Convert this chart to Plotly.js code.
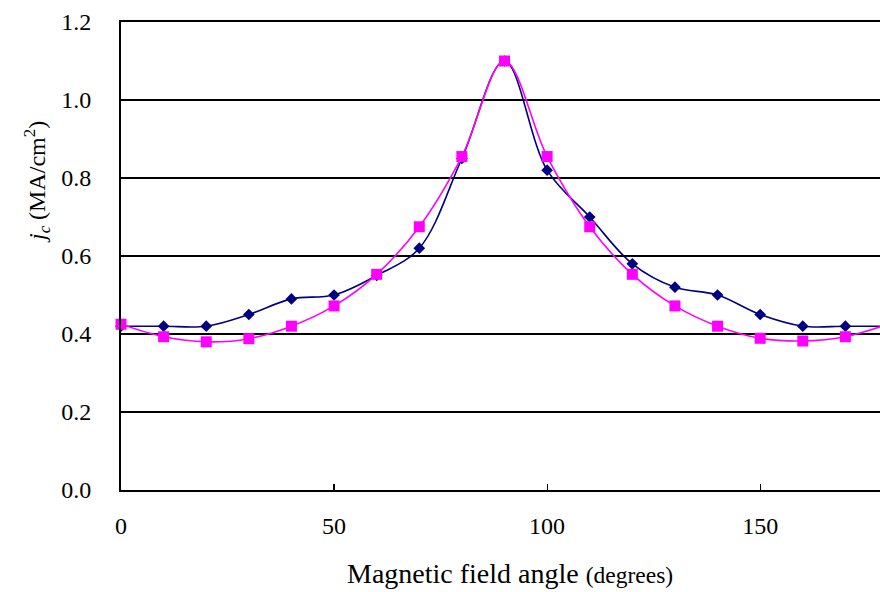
<!DOCTYPE html>
<html>
<head>
<meta charset="utf-8">
<script src="https://cdn.plot.ly/plotly-3.0.1.min.js"></script>
<style>
html,body{margin:0;padding:0;overflow:hidden;background:#fff;}
#chart{width:890px;height:592px;}
</style>
</head>
<body>
<div id="chart"></div>
<script>
var angles = [0,10,20,30,40,50,60,70,80,90,100,110,120,130,140,150,160,170,180];
var seriesBlue = [0.42,0.42,0.42,0.45,0.49,0.50,0.55,0.62,0.85,1.10,0.82,0.70,0.58,0.52,0.50,0.45,0.42,0.42,0.42];
var seriesPink = [0.425,0.393,0.380,0.388,0.420,0.472,0.553,0.675,0.855,1.10,0.855,0.675,0.553,0.472,0.420,0.389,0.382,0.393,0.425];
var xTicks = [0,50,100,150];
var yTicks = [0,0.2,0.4,0.6,0.8,1.0,1.2];
var yTickLabels = ['0.0','0.2','0.4','0.6','0.8','1.0','1.2'];

var fontFam = 'Liberation Serif';

var traces = [
  {
    x: angles, y: seriesBlue, type: 'scatter', mode: 'lines+markers',
    line: {color: '#000080', width: 1.6, shape: 'spline', smoothing: 1},
    marker: {symbol: 'diamond', size: 9, color: '#000080'},
    cliponaxis: false, showlegend: false
  },
  {
    x: angles, y: seriesPink, type: 'scatter', mode: 'lines+markers',
    line: {color: '#FF00FF', width: 1.6, shape: 'spline', smoothing: 1},
    marker: {symbol: 'square', size: 11, color: '#FF00FF'},
    cliponaxis: false, showlegend: false
  }
];

var layout = {
  width: 890, height: 592,
  margin: {l: 121, r: 2, t: 22, b: 102},
  paper_bgcolor: '#fff', plot_bgcolor: '#fff',
  font: {family: fontFam, size: 24, color: '#000'},
  xaxis: {
    range: [0, 180], tickvals: xTicks, ticktext: xTicks.map(String),
    ticks: 'inside', ticklen: 6, tickwidth: 1.2, tickcolor: '#000',
    showline: true, linecolor: '#000', linewidth: 2, mirror: true,
    showgrid: false, zeroline: false,
    ticklabelstandoff: 13,
    tickfont: {family: fontFam, size: 24, color: '#000'}
  },
  yaxis: {
    range: [0, 1.2], tickvals: yTicks, ticktext: yTickLabels,
    ticks: '', ticklabelstandoff: 23,
    showline: true, linecolor: '#000', linewidth: 2, mirror: true,
    showgrid: true, gridcolor: '#000', gridwidth: 1.3, zeroline: false,
    tickfont: {family: fontFam, size: 24, color: '#000'}
  },
  annotations: [
    {
      xref: 'paper', yref: 'paper', x: 0, y: (490 - 182) / 468,
      xshift: -84, xanchor: 'center', yanchor: 'middle', textangle: -90,
      showarrow: false,
      text: '<i>j<sub>c</sub></i> (MA/cm<sup>2</sup>)',
      font: {family: fontFam, size: 24, color: '#000'}
    },
    {
      xref: 'paper', yref: 'paper', x: (510 - 121) / 767, y: 0,
      yshift: -83, xanchor: 'center', yanchor: 'middle',
      showarrow: false,
      text: 'Magnetic field angle <span style="font-size:23.5px">(degrees)</span>',
      font: {family: fontFam, size: 28, color: '#000'}
    }
  ]
};

Plotly.newPlot('chart', traces, layout, {displayModeBar: false, staticPlot: true});
</script>
</body>
</html>
